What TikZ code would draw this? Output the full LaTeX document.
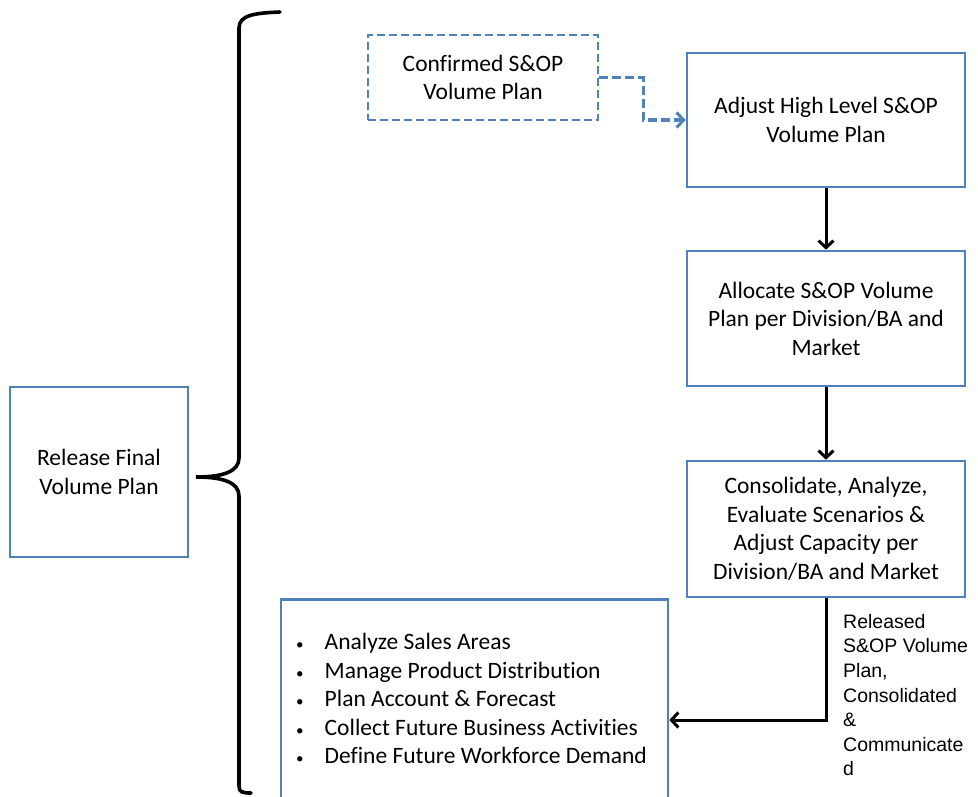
\documentclass[tikz,border=0pt]{standalone}
\usepackage{fontspec}
\setmainfont[Ligatures=NoCommon]{Carlito}
\newfontfamily\arialf{Liberation Sans}
\usetikzlibrary{arrows.meta}
\definecolor{boxblue}{RGB}{79,129,189}
\begin{document}
\begin{tikzpicture}[x=1pt,y=1pt,
  box/.style={draw=boxblue,line width=2.6pt,rectangle,align=center,inner sep=0pt,
    font=\fontsize{23.5}{28.5}\selectfont},
  dbox/.style={box,dash pattern=on 8pt off 4pt},
  flow/.style={draw=black,line width=3pt,-{Straight Barb[length=7pt,width=15pt,line width=3pt]}},
  dflow/.style={draw=boxblue,line width=3.2pt,dash pattern=on 9pt off 4pt,-{Straight Barb[length=7pt,width=15pt,line width=3pt]}},
  lbl/.style={font=\arialf\fontsize{19.5}{24.6}\selectfont,align=left,inner sep=0pt}]
\useasboundingbox (0,0) rectangle (978,-796);
\clip (0,0) rectangle (978,-796);
\fill[white] (0,0) rectangle (978,-796);

\node[box,minimum width=178pt,minimum height=170pt] (rel) at (99,-472) {Release Final\\Volume Plan};
\node[dbox,minimum width=230pt,minimum height=85pt] (conf) at (483,-77.5) {Confirmed S\&OP\\Volume Plan};
\node[box,minimum width=278pt,minimum height=134pt] (adj) at (826,-120) {Adjust High Level S\&OP\\Volume Plan};
\node[box,minimum width=278pt,minimum height=135pt] (alloc) at (826,-318.5) {Allocate S\&OP Volume\\Plan per Division/BA and\\Market};
\node[box,minimum width=278pt,minimum height=136pt] (cons) at (826,-529) {Consolidate, Analyze,\\Evaluate Scenarios \&\\Adjust Capacity per\\Division/BA and Market};
\node[box,minimum width=387pt,minimum height=203pt] (bot) at (474.5,-701) {%
  \begin{tabular}{@{}l@{\hspace{21pt}}l@{}}
  {\fontsize{15}{15}\selectfont\textbullet} & Analyze Sales Areas\\
  {\fontsize{15}{15}\selectfont\textbullet} & Manage Product Distribution\\
  {\fontsize{15}{15}\selectfont\textbullet} & Plan Account \& Forecast\\
  {\fontsize{15}{15}\selectfont\textbullet} & Collect Future Business Activities\\
  {\fontsize{15}{15}\selectfont\textbullet} & Define Future Workforce Demand
  \end{tabular}\hspace{6pt}};
\node[lbl,anchor=north west] (rlbl) at (843,-614) {Released\\S\&OP Volume\\Plan,\\Consolidated\\\&\\Communicate\\d};

% brace
\draw[line width=3.6pt,line cap=round] (280,-12) .. controls (255,-13) and (239,-15) .. (239,-28)
  -- (239,-458) .. controls (239,-472) and (222,-477) .. (196,-477)
  .. controls (222,-477) and (239,-482) .. (239,-496)
  -- (239,-786) .. controls (239,-792) and (242,-793) .. (251,-793);

\draw[dflow] (conf.east) -- ++(44,0) |- (adj.west);
\draw[flow] (adj.south) -- (alloc.north);
\draw[flow] (alloc.south) -- (cons.north);
\draw[flow] (cons.south) |- ([yshift=-19pt]bot.east);
\end{tikzpicture}
\end{document}
